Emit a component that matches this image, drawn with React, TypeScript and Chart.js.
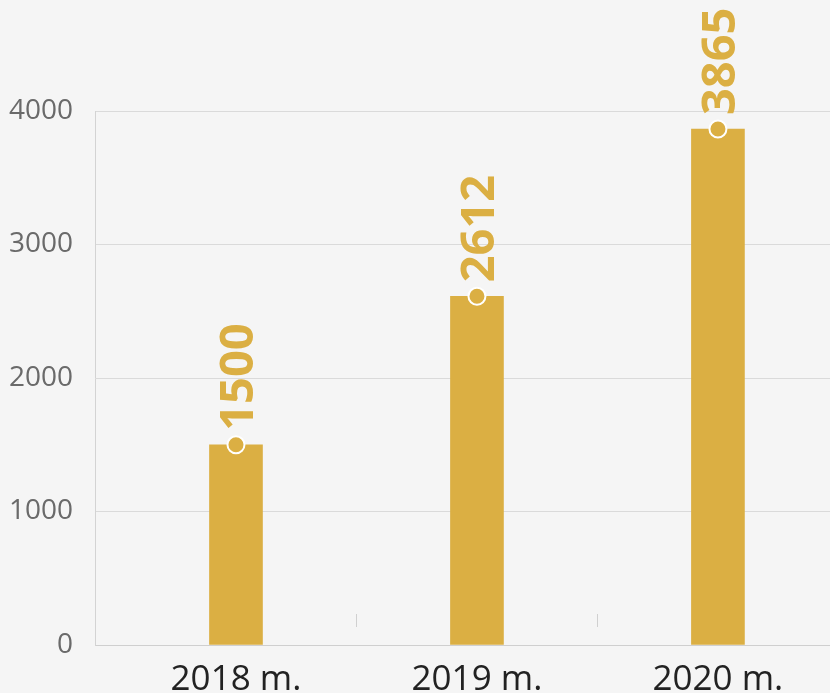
import React, { useEffect, useRef } from 'react';
import { Chart, registerables } from 'chart.js';

Chart.register(...registerables);

const categories = ['2018 m.', '2019 m.', '2020 m.'];
const values = [1500, 2612, 3865];
const yTicks = [0, 1000, 2000, 3000, 4000];

const GOLD = '#DBAF43';
const BG = '#f5f5f5';
const FONT = "'Open Sans', 'Noto Sans', sans-serif";

const decorPlugin = {
  id: 'decor',
  beforeDraw(chart: any) {
    const { ctx, width, height } = chart;
    ctx.save();
    ctx.fillStyle = BG;
    ctx.fillRect(0, 0, width, height);
    ctx.restore();
  },
  afterDatasetsDraw(chart: any) {
    const { ctx, chartArea } = chart;
    const xs = chart.scales.x;
    ctx.save();
    ctx.strokeStyle = '#d0d0d0';
    ctx.lineWidth = 1;
    for (let i = 0; i < categories.length - 1; i++) {
      const px = Math.round(xs.getPixelForValue(i + 0.5)) + 0.5;
      ctx.beginPath();
      ctx.moveTo(px, chartArea.bottom - 31);
      ctx.lineTo(px, chartArea.bottom - 18);
      ctx.stroke();
    }
    const meta = chart.getDatasetMeta(1);
    ctx.fillStyle = GOLD;
    ctx.font = `700 47px ${FONT}`;
    ctx.textAlign = 'left';
    ctx.textBaseline = 'alphabetic';
    meta.data.forEach((pt: any, i: number) => {
      ctx.save();
      ctx.translate(pt.x, pt.y - 14);
      ctx.rotate(-Math.PI / 2);
      ctx.fillText(String(values[i]), 0, 17);
      ctx.restore();
    });
    ctx.restore();
  },
};

export default function App() {
  const ref = useRef<HTMLCanvasElement>(null);
  useEffect(() => {
    document.body.style.margin = '0';
    document.body.style.background = BG;
    const points = values.map((v, i) => ({ x: i, y: v }));
    const chart = new Chart(ref.current!, {
      type: 'bar',
      data: {
        datasets: [
          {
            type: 'bar',
            data: points,
            backgroundColor: GOLD,
            barThickness: 53,
            order: 2,
          } as any,
          {
            type: 'line',
            data: points,
            showLine: false,
            pointRadius: 8.5,
            pointBackgroundColor: GOLD,
            pointBorderColor: '#ffffff',
            pointBorderWidth: 2,
            order: 1,
            clip: false,
          } as any,
        ],
      },
      options: {
        responsive: false,
        animation: false,
        layout: { autoPadding: false, padding: { top: 111, left: 0, right: 0, bottom: 0 } },
        plugins: { legend: { display: false }, tooltip: { enabled: false } },
        scales: {
          x: {
            type: 'linear',
            offset: false,
            min: -0.585,
            max: 2.465,
            afterBuildTicks: (scale: any) => {
              scale.ticks = categories.map((_, i) => ({ value: i }));
            },
            afterFit: (scale: any) => {
              scale.height = 48;
              scale.paddingLeft = 0;
              scale.paddingRight = 0;
            },
            grid: { display: false, drawTicks: false, offset: false },
            border: { display: true, color: '#cfcfcf', width: 1 },
            ticks: {
              padding: 14,
              color: '#222222',
              font: { family: FONT, size: 35 },
              maxRotation: 0,
              autoSkip: false,
              callback: (v: any) => categories[v] ?? '',
            },
          },
          y: {
            type: 'linear',
            min: yTicks[0],
            max: yTicks[yTicks.length - 1],
            afterBuildTicks: (scale: any) => {
              scale.ticks = yTicks.map((v) => ({ value: v }));
            },
            afterFit: (scale: any) => {
              scale.width = 95;
            },
            grid: { color: '#dadada', lineWidth: 1, drawTicks: false },
            border: { display: true, color: '#d3d3d3', width: 1 },
            ticks: {
              padding: 22,
              color: '#6a6a6a',
              font: { family: FONT, size: 28 },
              callback: (v: any) => String(v),
            },
          },
        },
      },
      plugins: [decorPlugin],
    });
    return () => chart.destroy();
  }, []);
  return (
    <div style={{ width: 830, height: 693, background: BG }}>
      <canvas ref={ref} width={830} height={693} style={{ display: 'block' }} />
    </div>
  );
}
